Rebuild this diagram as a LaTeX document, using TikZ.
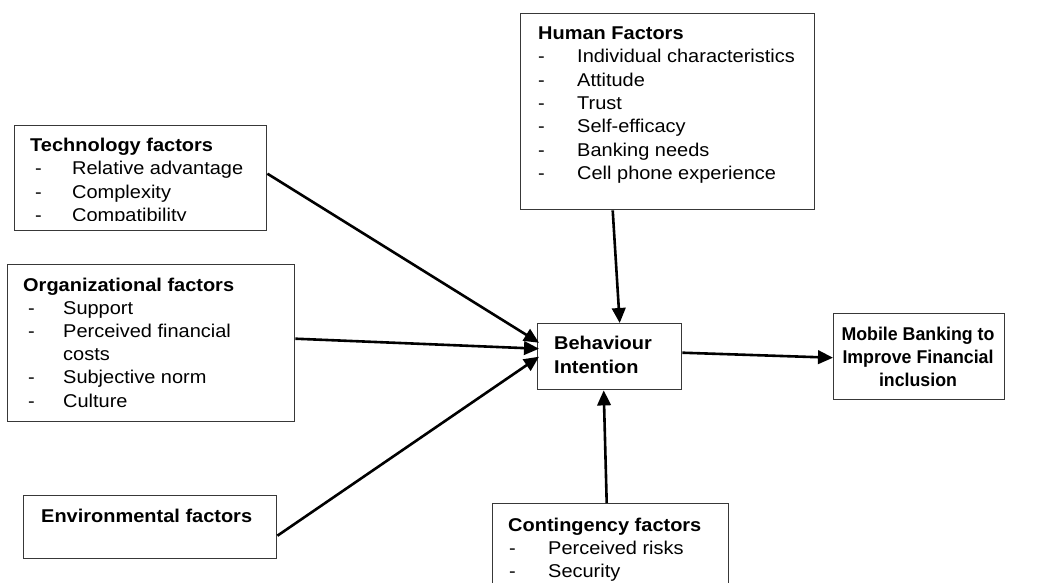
\documentclass[tikz,border=0pt]{standalone}
\usepackage{fontspec}
\setmainfont{Liberation Sans}[FakeStretch=1.08]
\newfontfamily\mobfont{Liberation Sans}[FakeStretch=0.96]
\usetikzlibrary{arrows.meta,calc}
\tikzset{
  box/.style={draw=black!78, line width=1.4pt, fill=none, inner sep=0pt, anchor=north west},
  txt/.style={anchor=base west, inner sep=0pt, font=\fontsize{18.5}{22}\selectfont},
  ttl/.style={anchor=base west, inner sep=0pt, font=\fontsize{18.5}{22}\selectfont\bfseries},
  ctr/.style={anchor=base, inner sep=0pt, font=\mobfont\fontsize{18.5}{22}\selectfont\bfseries},
  arr/.style={line width=2.6pt, -{Triangle[length=15pt,width=13.5pt]}}
}
\begin{document}
\begin{tikzpicture}[x=1pt,y=-1pt]
\useasboundingbox (0,0) rectangle (1048,582);
% boxes
\node[box, minimum width=252pt, minimum height=105pt] (tech) at (14,125) {};
\node[box, minimum width=287pt, minimum height=157pt] (org) at (7,264) {};
\node[box, minimum width=253pt, minimum height=63pt] (env) at (23,495) {};
\node[box, minimum width=294pt, minimum height=196pt] (hum) at (520,13) {};
\node[box, minimum width=144pt, minimum height=66pt] (beh) at (537,323) {};
\node[box, minimum width=171pt, minimum height=86pt] (mob) at (833,313) {};
\node[box, minimum width=236pt, minimum height=110pt] (con) at (492,503) {};
% technology text (clipped)
\begin{scope}
\clip (14,125) rectangle (266,220.5);
\node[ttl] (t0) at (30,151.5) {Technology factors};
\node[txt] (t1d) at (35,174.8) {-};
\node[txt] (t1) at (72,174.8) {Relative advantage};
\node[txt] (t2d) at (35,198.1) {-};
\node[txt] (t2) at (72,198.1) {Complexity};
\node[txt] (t3d) at (35,221.4) {-};
\node[txt] (t3) at (72,221.4) {Compatibility};
\end{scope}
% organizational text
\node[ttl] (o0) at (23,291) {Organizational factors};
\node[txt] (o1d) at (28,314.2) {-};
\node[txt] (o1) at (63,314.2) {Support};
\node[txt] (o2d) at (28,337.4) {-};
\node[txt] (o2) at (63,337.4) {Perceived financial};
\node[txt] (o2b) at (63,360.6) {costs};
\node[txt] (o3d) at (28,383.8) {-};
\node[txt] (o3) at (63,383.8) {Subjective norm};
\node[txt] (o4d) at (28,407) {-};
\node[txt] (o4) at (63,407) {Culture};
% environmental
\node[ttl] (e0) at (41,522) {Environmental factors};
% human text
\node[ttl] (h0) at (538,39.5) {Human Factors};
\node[txt] (h1d) at (538,62.8) {-};
\node[txt] (h1) at (577,62.8) {Individual characteristics};
\node[txt] (h2d) at (538,86.1) {-};
\node[txt] (h2) at (577,86.1) {Attitude};
\node[txt] (h3d) at (538,109.4) {-};
\node[txt] (h3) at (577,109.4) {Trust};
\node[txt] (h4d) at (538,132.7) {-};
\node[txt] (h4) at (577,132.7) {Self-efficacy};
\node[txt] (h5d) at (538,156) {-};
\node[txt] (h5) at (577,156) {Banking needs};
\node[txt] (h6d) at (538,179.3) {-};
\node[txt] (h6) at (577,179.3) {Cell phone experience};
% behaviour
\node[ttl] (b0) at (554,349) {Behaviour};
\node[ttl] (b1) at (554,373) {Intention};
% mobile
\node[ctr] (m0) at (918,340) {Mobile Banking to};
\node[ctr] (m1) at (918,363) {Improve Financial};
\node[ctr] (m2) at (918,386) {inclusion};
% contingency
\node[ttl] (c0) at (508,531) {Contingency factors};
\node[txt] (c1d) at (509,554) {-};
\node[txt] (c1) at (548,554) {Perceived risks};
\node[txt] (c2d) at (509,577) {-};
\node[txt] (c2) at (548,577) {Security};
% arrows
\draw[arr] ($(tech.east)+(0,-4.5)$) -- ($(beh.west)+(2,-14)$);
\draw[arr] ($(org.east)+(0,-4.5)$) -- ($(beh.west)+(2,-8)$);
\draw[arr] ($(env.east)+(0,8.5)$) -- ($(beh.west)+(2,0)$);
\draw[arr] ($(hum.south)+(-55,0)$) -- ($(beh.north)+(10,0)$);
\draw[arr] ($(con.north)+(-4,0)$) -- ($(beh.south)+(-6,0)$);
\draw[arr] ($(beh.east)+(0,-4)$) -- ($(mob.west)+(0,1)$);
\end{tikzpicture}
\end{document}
